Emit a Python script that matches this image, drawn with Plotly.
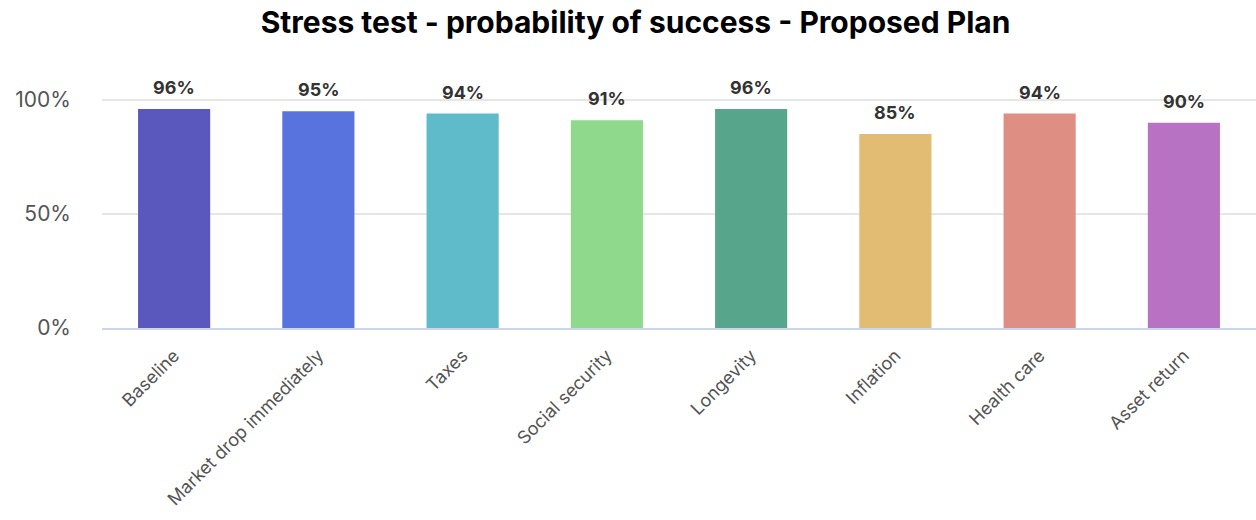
import plotly.graph_objects as go

categories = ["Baseline", "Market drop immediately", "Taxes", "Social security",
              "Longevity", "Inflation", "Health care", "Asset return"]
values = [96, 95, 94, 91, 96, 85, 94, 90]
colors = ["#5A58BC", "#5872DE", "#5FBBC9", "#8FD98D", "#57A58B", "#E1BC72", "#DF8E84", "#B872C3"]
y_ticks = [0, 50, 100]
y_tick_labels = ["0%", "50%", "100%"]

fig = go.Figure()
fig.add_trace(go.Bar(
    x=categories, y=values, marker=dict(color=colors, line=dict(width=0)),
    width=0.5, hoverinfo="x+y",
))

for c, v in zip(categories, values):
    fig.add_annotation(x=c, y=v, text=f"<b>{v}%</b>", showarrow=False,
                       yanchor="bottom", yshift=9,
                       font=dict(family="Inter", size=18, color="#333333"))

fig.update_layout(
    width=1256, height=520,
    margin=dict(l=102, r=0, t=77, b=192),
    paper_bgcolor="white", plot_bgcolor="white",
    showlegend=False,
    title=dict(text="<b>Stress test - probability of success - Proposed Plan</b>",
               x=0.506, xanchor="center", y=0.957, yanchor="middle",
               font=dict(family="Inter", size=30, color="#000000")),
    xaxis=dict(showgrid=False, tickangle=-45, showline=True, linecolor="#ccd6eb", linewidth=2,
               tickfont=dict(family="Inter", size=18, color="#555555"),
               ticks="outside", ticklen=8, tickcolor="rgba(0,0,0,0)"),
    yaxis=dict(range=[0, 110], tickvals=y_ticks, ticktext=y_tick_labels,
               showgrid=True, gridcolor="#e6e6e6", gridwidth=2, zeroline=False,
               tickfont=dict(family="Inter", size=21, color="#555555"),
               ticklabelstandoff=30),
)

fig.write_html("out.html")
